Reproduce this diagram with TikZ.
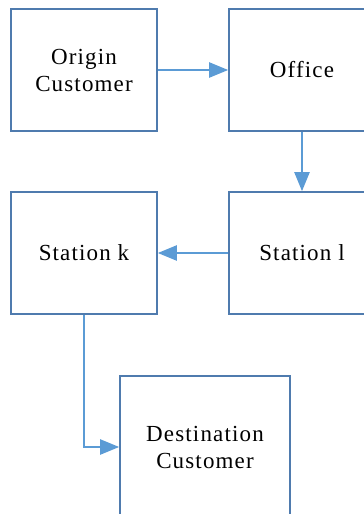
\documentclass[tikz,border=0pt]{standalone}
\usepackage{fontspec}
\setmainfont{Liberation Serif}[LetterSpace=5]
\usetikzlibrary{arrows.meta}
\definecolor{boxline}{HTML}{4F7BAE}
\definecolor{arrowc}{HTML}{5B9BD5}
\tikzset{
  stepbox/.style={draw=boxline, line width=1.6pt, minimum width=146pt, minimum height=122pt, inner sep=0pt, align=center, font=\fontsize{23}{27}\selectfont, text=black},
  flow/.style={draw=arrowc, line width=2.2pt, -{Triangle[length=19pt,width=15pt]}}
}
\begin{document}
\begin{tikzpicture}[x=1pt,y=-1pt]
\useasboundingbox (0,0) rectangle (364,514);
\begin{scope}
\clip (0,0) rectangle (364,514);
\node[stepbox] (origin) at (84,70) {Origin\\Customer};
\node[stepbox] (office) at (302,70) {Office};
\node[stepbox] (stl) at (302,253) {Station l};
\node[stepbox] (stk) at (84,253) {Station k};
\node[stepbox, minimum width=170pt, minimum height=142pt] (dest) at (205,447) {Destination\\Customer};
\draw[flow] (origin.east) -- (office.west);
\draw[flow] (office.south) -- (stl.north);
\draw[flow] (stl.west) -- (stk.west -| stk.east);
\draw[flow] (stk.south) |- (dest.west);
\end{scope}
\end{tikzpicture}
\end{document}
